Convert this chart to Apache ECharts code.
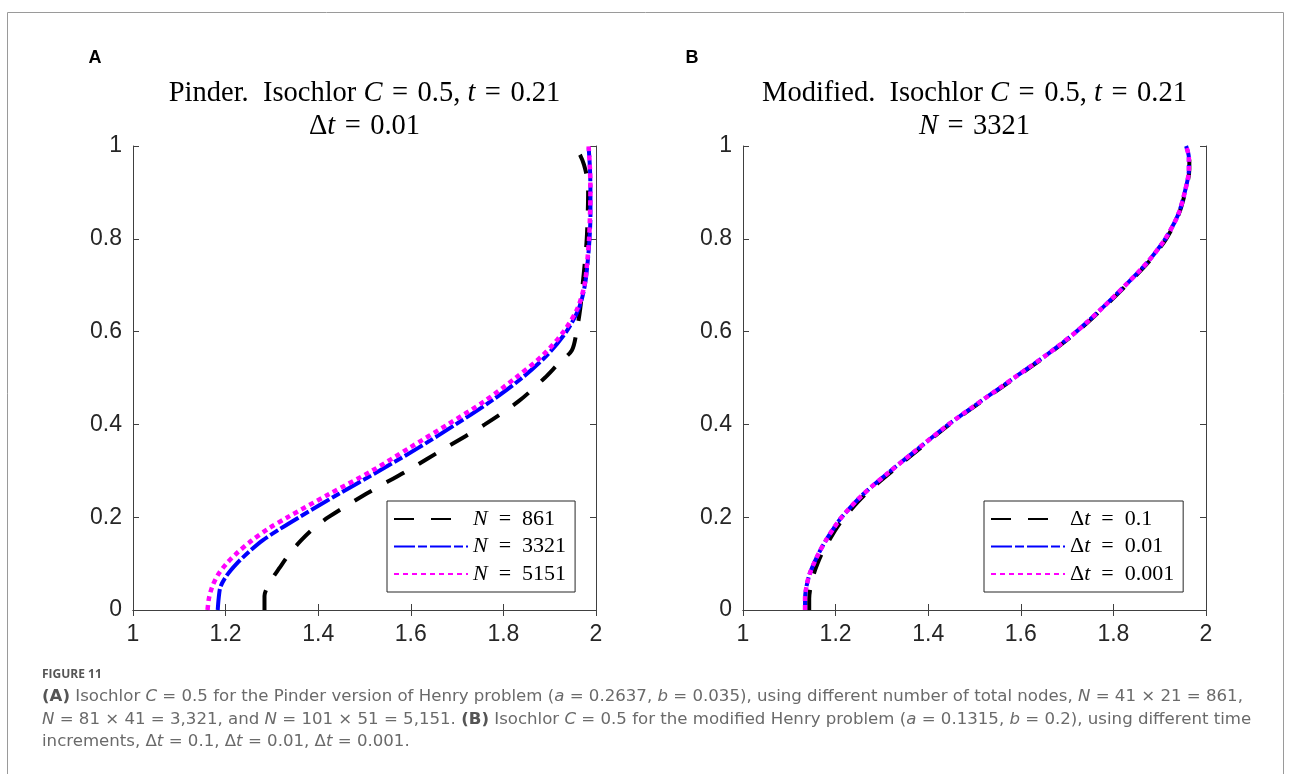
<!DOCTYPE html>
<html>
<head>
<meta charset="utf-8">
<script src="https://cdn.jsdelivr.net/npm/echarts@6/dist/echarts.min.js"></script>
<style>
  html, body { margin: 0; padding: 0; background: #fff; }
  #chart { width: 1290px; height: 774px; }
</style>
</head>
<body>
<div id="chart"></div>
<script>
// ---- Panel A: Pinder problem, isochlor C = 0.5 for three grid sizes ----
const yA = [0, 0.025, 0.05, 0.075, 0.1, 0.125, 0.15, 0.175, 0.2, 0.25, 0.3, 0.35, 0.4, 0.45, 0.5, 0.55, 0.6, 0.65, 0.7, 0.75, 0.8, 0.85, 0.9, 0.95, 1.0];
const xN5151 = [1.161, 1.164, 1.171, 1.183, 1.202, 1.227, 1.257, 1.292, 1.334, 1.424, 1.516, 1.598, 1.680, 1.759, 1.826, 1.886, 1.930, 1.960, 1.975, 1.981, 1.985, 1.987, 1.988, 1.987, 1.984];
const xN3321 = [1.183, 1.185, 1.189, 1.203, 1.224, 1.250, 1.280, 1.318, 1.359, 1.444, 1.532, 1.617, 1.697, 1.773, 1.840, 1.895, 1.936, 1.963, 1.976, 1.982, 1.986, 1.988, 1.988, 1.987, 1.984];
const yN861 = [0, 0.03, 0.06, 0.09, 0.12, 0.15, 0.175, 0.2, 0.25, 0.3, 0.35, 0.4, 0.45, 0.5, 0.53, 0.56, 0.6, 0.65, 0.7, 0.75, 0.8, 0.85, 0.9, 0.93, 0.96, 0.98, 1.0];
const xN861 = [1.284, 1.284, 1.296, 1.316, 1.337, 1.363, 1.389, 1.422, 1.503, 1.592, 1.676, 1.760, 1.833, 1.889, 1.918, 1.948, 1.958, 1.966, 1.971, 1.976, 1.980, 1.982, 1.983, 1.981, 1.974, 1.966, 1.954];

// ---- Panel B: modified problem, N = 3321, three time increments ----
const yB = [0, 0.025, 0.05, 0.075, 0.1, 0.125, 0.15, 0.175, 0.2, 0.25, 0.3, 0.35, 0.4, 0.45, 0.5, 0.55, 0.6, 0.65, 0.7, 0.75, 0.8, 0.85, 0.9, 0.95, 0.975, 1.0];
const xDt1 = [1.143, 1.143, 1.146, 1.152, 1.161, 1.172, 1.186, 1.201, 1.219, 1.265, 1.323, 1.384, 1.446, 1.516, 1.587, 1.658, 1.722, 1.777, 1.828, 1.876, 1.914, 1.940, 1.955, 1.964, 1.964, 1.958];
const xDt01 = [1.134, 1.134, 1.137, 1.143, 1.153, 1.165, 1.179, 1.195, 1.213, 1.260, 1.319, 1.381, 1.444, 1.514, 1.585, 1.656, 1.720, 1.775, 1.826, 1.874, 1.912, 1.939, 1.954, 1.963, 1.963, 1.957];
const xDt001 = [1.134, 1.134, 1.137, 1.143, 1.153, 1.165, 1.179, 1.195, 1.213, 1.260, 1.319, 1.381, 1.444, 1.514, 1.585, 1.656, 1.720, 1.775, 1.826, 1.874, 1.912, 1.939, 1.954, 1.963, 1.963, 1.957];

const namesA = ['N = 861', 'N = 3321', 'N = 5151'];
const namesB = ['\u0394t = 0.1', '\u0394t = 0.01', '\u0394t = 0.001'];
const xTicks = { min: 1, max: 2, interval: 0.2 };
const yTicks = { min: 0, max: 1, interval: 0.2 };

const pairs = (xs, ys) => xs.map((x, i) => [x, ys[i]]);

const AXIS_COLOR = '#404040';
const TICK_FONT = 'Liberation Sans';
const SERIF = 'Liberation Serif';
const EQ = '\u2004=\u2004';   // math-style spacing around "="
const EQ_LEG = '\u2002=\u2002';

const grids = [
  { left: 133, top: 146, width: 463, height: 464 },
  { left: 743, top: 146, width: 463, height: 464 }
];

function xAxes(gi) {
  const common = {
    type: 'value', gridIndex: gi, min: xTicks.min, max: xTicks.max, interval: xTicks.interval,
    splitLine: { show: false },
    axisLine: { lineStyle: { color: AXIS_COLOR, width: 1 } },
    axisTick: { inside: true, length: 6, lineStyle: { color: AXIS_COLOR } }
  };
  return [
    Object.assign({}, common, {
      position: 'bottom',
      axisLabel: { margin: 13, fontFamily: TICK_FONT, fontSize: 23, color: '#262626' }
    }),
    Object.assign({}, common, { position: 'top', axisLabel: { show: false } })
  ];
}
function yAxes(gi) {
  const common = {
    type: 'value', gridIndex: gi, min: yTicks.min, max: yTicks.max, interval: yTicks.interval,
    splitLine: { show: false },
    axisLine: { lineStyle: { color: AXIS_COLOR, width: 1 } },
    axisTick: { inside: true, length: 6, lineStyle: { color: AXIS_COLOR } }
  };
  return [
    Object.assign({}, common, {
      position: 'left',
      axisLabel: { margin: 11, fontFamily: TICK_FONT, fontSize: 23, color: '#262626' }
    }),
    Object.assign({}, common, { position: 'right', axisLabel: { show: false } })
  ];
}

// line looks: long dash, dash-dot, dotted
const STYLES = [
  { color: '#000000', width: 4, type: [20, 17] },
  { color: '#0000ff', width: 4, type: [21, 3, 9, 3] },
  { color: '#ff00ff', width: 4.5, type: [5, 4] }
];

function lineSeries(name, data, gi, k) {
  return {
    type: 'line', name: name, data: data,
    xAxisIndex: gi * 2, yAxisIndex: gi * 2,
    symbol: 'none', smooth: 0.3,
    color: STYLES[k].color,
    lineStyle: { color: STYLES[k].color, width: STYLES[k].width, type: STYLES[k].type, cap: 'butt' },
    emphasis: { disabled: true }
  };
}

const richLegend = {
  i: { fontFamily: SERIF, fontStyle: 'italic', fontSize: 22, color: '#000' }
};
function legendBox(names, left, fmt) {
  return {
    data: names, left: left, top: 501, orient: 'vertical',
    itemWidth: 74, itemHeight: 20, itemGap: 5.5,
    padding: [7, 9, 7, 6],
    borderColor: '#262626', borderWidth: 1, backgroundColor: '#fff',
    selectedMode: false,
    itemStyle: { opacity: 0 },
    textStyle: { fontFamily: SERIF, fontSize: 22, color: '#000', rich: richLegend },
    formatter: fmt
  };
}

const TITLE_SIZE = 28.5;
const richTitle = {
  i: { fontFamily: SERIF, fontStyle: 'italic', fontSize: TITLE_SIZE, fill: '#000' }
};
function titleText(text, x, y) {
  return {
    type: 'text', z: 10,
    style: {
      x: x, y: y, text: text, align: 'center', verticalAlign: 'middle',
      fontFamily: SERIF, fontSize: TITLE_SIZE, fill: '#000', rich: richTitle
    }
  };
}

const CAP_FONT = 'DejaVu Sans';
const CAP_SIZE = 16.6;
const richCap = {
  b: { fontFamily: CAP_FONT, fontWeight: 'bold', fontSize: CAP_SIZE, fill: '#555' },
  i: { fontFamily: CAP_FONT, fontStyle: 'italic', fontSize: CAP_SIZE, fill: '#6a6a6a' }
};
function capLine(text, y) {
  return {
    type: 'text', z: 10,
    style: {
      x: 42, y: y, text: text, align: 'left', verticalAlign: 'middle',
      fontFamily: CAP_FONT, fontSize: CAP_SIZE, fill: '#6a6a6a', rich: richCap
    }
  };
}

const option = {
  animation: false,
  backgroundColor: '#fff',
  grid: grids,
  xAxis: xAxes(0).concat(xAxes(1)),
  yAxis: yAxes(0).concat(yAxes(1)),
  legend: [
    legendBox(namesA, 387, n => n.replace(/^N/, '{i|N}').replace(' = ', EQ_LEG)),
    legendBox(namesB, 984, n => n.replace('\u0394t', '\u0394{i|t}').replace(' = ', EQ_LEG))
  ],
  series: [
    lineSeries(namesA[0], pairs(xN861, yN861), 0, 0),
    lineSeries(namesA[1], pairs(xN3321, yA), 0, 1),
    lineSeries(namesA[2], pairs(xN5151, yA), 0, 2),
    lineSeries(namesB[0], pairs(xDt1, yB), 1, 0),
    lineSeries(namesB[1], pairs(xDt01, yB), 1, 1),
    lineSeries(namesB[2], pairs(xDt001, yB), 1, 2)
  ],
  graphic: [
    { type: 'rect', z: -1, shape: { x: 7.5, y: 12.5, width: 1276, height: 800 },
      style: { fill: 'none', stroke: '#9a9a9a', lineWidth: 1 } },
    { type: 'text', style: { x: 95, y: 58, text: 'A', align: 'center', verticalAlign: 'middle',
      fontFamily: 'Liberation Sans', fontWeight: 'bold', fontSize: 18, fill: '#000' } },
    { type: 'text', style: { x: 692, y: 58, text: 'B', align: 'center', verticalAlign: 'middle',
      fontFamily: 'Liberation Sans', fontWeight: 'bold', fontSize: 18, fill: '#000' } },
    titleText('Pinder.  Isochlor {i|C}' + EQ + '0.5, {i|t}' + EQ + '0.21', 364.5, 94),
    titleText('\u0394{i|t}' + EQ + '0.01', 364.5, 127),
    titleText('Modified.  Isochlor {i|C}' + EQ + '0.5, {i|t}' + EQ + '0.21', 974.5, 94),
    titleText('{i|N}' + EQ + '3321', 974.5, 127),
    { type: 'text', style: { x: 42, y: 675, text: 'FIGURE 11', align: 'left', verticalAlign: 'middle',
      fontFamily: 'Open Sans', fontWeight: 'bold', fontSize: 12, fill: '#555' } },
    capLine('{b|(A)} Isochlor {i|C} = 0.5 for the Pinder version of Henry problem ({i|a} = 0.2637, {i|b} = 0.035), using different number of total nodes, {i|N} = 41 \u00d7 21 = 861,', 697),
    capLine('{i|N} = 81 \u00d7 41 = 3,321, and {i|N} = 101 \u00d7 51 = 5,151. {b|(B)} Isochlor {i|C} = 0.5 for the modified Henry problem ({i|a} = 0.1315, {i|b} = 0.2), using different time', 720),
    capLine('increments, \u0394{i|t} = 0.1, \u0394{i|t} = 0.01, \u0394{i|t} = 0.001.', 742)
  ]
};

const chart = echarts.init(document.getElementById('chart'), null, { renderer: 'canvas' });
chart.setOption(option);
</script>
</body>
</html>
